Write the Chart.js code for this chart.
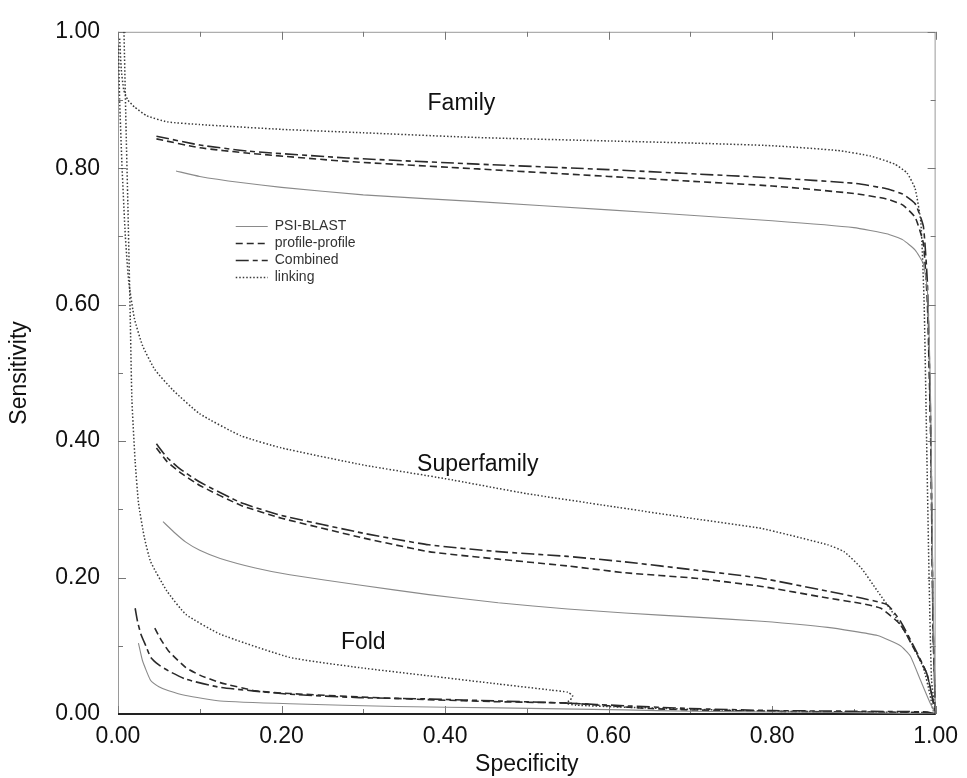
<!DOCTYPE html>
<html>
<head>
<meta charset="utf-8">
<script src="https://cdn.jsdelivr.net/npm/chart.js@4.4.1/dist/chart.umd.min.js"></script>
<style>
  html, body { margin: 0; padding: 0; background: #fff; }
  #wrap { width: 967px; height: 778px; }
</style>
</head>
<body>
<div id="wrap"><canvas id="rocChart" width="967" height="778"></canvas></div>
<script>
// DATA  (specificity, sensitivity)
const famPsiBlast = [[0.071,0.796],[0.1,0.788],[0.15,0.779],[0.2,0.772],[0.3,0.761],[0.44,0.751],[0.6,0.739],[0.7,0.731],[0.8,0.723],[0.9,0.713],[0.94,0.704],[0.96,0.695],[0.975,0.68],[0.985,0.66],[0.99,0.62],[0.994,0.45],[0.997,0.15],[1.0,0.0]];
const famProfile = [[0.047,0.843],[0.1,0.83],[0.16,0.822],[0.28,0.81],[0.44,0.799],[0.6,0.788],[0.7,0.781],[0.8,0.774],[0.9,0.763],[0.94,0.755],[0.96,0.746],[0.975,0.728],[0.985,0.69],[0.99,0.6],[0.994,0.4],[0.997,0.12],[1.0,0.0]];
const famCombined = [[0.047,0.847],[0.1,0.834],[0.16,0.825],[0.28,0.815],[0.44,0.806],[0.6,0.798],[0.7,0.792],[0.8,0.786],[0.9,0.778],[0.94,0.77],[0.96,0.762],[0.975,0.748],[0.985,0.715],[0.99,0.63],[0.994,0.42],[0.997,0.12],[1.0,0.0]];
const famLinking = [[0.002,0.99],[0.004,0.945],[0.007,0.915],[0.012,0.9],[0.02,0.89],[0.035,0.877],[0.06,0.868],[0.1,0.864],[0.2,0.857],[0.3,0.852],[0.44,0.845],[0.6,0.84],[0.7,0.837],[0.8,0.833],[0.88,0.826],[0.92,0.818],[0.95,0.806],[0.965,0.793],[0.975,0.77],[0.982,0.72],[0.986,0.6],[0.989,0.4],[0.992,0.2],[0.995,0.05],[1.0,0.0]];

const supPsiBlast = [[0.055,0.282],[0.07,0.265],[0.083,0.252],[0.1,0.24],[0.125,0.228],[0.168,0.214],[0.21,0.204],[0.295,0.189],[0.38,0.175],[0.465,0.163],[0.55,0.154],[0.62,0.148],[0.706,0.142],[0.787,0.136],[0.868,0.127],[0.929,0.115],[0.957,0.1],[0.969,0.085],[0.981,0.051],[0.993,0.017],[1.0,0.0]];
const supProfile = [[0.047,0.39],[0.06,0.37],[0.075,0.355],[0.1,0.335],[0.15,0.306],[0.2,0.287],[0.3,0.258],[0.38,0.238],[0.465,0.227],[0.55,0.217],[0.62,0.207],[0.706,0.199],[0.787,0.187],[0.868,0.17],[0.909,0.162],[0.933,0.155],[0.957,0.131],[0.973,0.097],[0.989,0.06],[0.995,0.03],[1.0,0.0]];
const supCombined = [[0.047,0.396],[0.06,0.376],[0.075,0.36],[0.1,0.34],[0.15,0.31],[0.2,0.291],[0.3,0.265],[0.38,0.248],[0.465,0.238],[0.55,0.231],[0.62,0.223],[0.706,0.211],[0.787,0.199],[0.868,0.18],[0.909,0.17],[0.941,0.16],[0.957,0.136],[0.973,0.1],[0.989,0.06],[0.995,0.03],[1.0,0.0]];
const supLinking = [[0.0005,0.98],[0.002,0.9],[0.005,0.8],[0.009,0.7],[0.013,0.635],[0.02,0.58],[0.03,0.54],[0.045,0.505],[0.067,0.475],[0.1,0.44],[0.15,0.408],[0.2,0.39],[0.3,0.365],[0.4,0.345],[0.5,0.323],[0.6,0.305],[0.706,0.286],[0.787,0.272],[0.868,0.248],[0.888,0.238],[0.909,0.214],[0.929,0.18],[0.949,0.146],[0.969,0.107],[0.985,0.068],[0.993,0.029],[0.997,0.005],[1.0,0.0]];

const foldPsiBlast = [[0.025,0.104],[0.03,0.078],[0.04,0.049],[0.05,0.04],[0.062,0.034],[0.083,0.027],[0.125,0.019],[0.21,0.015],[0.34,0.011],[0.465,0.009],[0.62,0.006],[0.7,0.004],[0.8,0.003],[0.9,0.002],[1.0,0.0]];
const foldProfile = [[0.045,0.126],[0.052,0.11],[0.062,0.092],[0.083,0.068],[0.1,0.057],[0.125,0.046],[0.168,0.034],[0.21,0.03],[0.295,0.025],[0.38,0.021],[0.465,0.018],[0.55,0.016],[0.6,0.012],[0.65,0.008],[0.7,0.006],[0.8,0.004],[0.9,0.003],[0.99,0.002],[1.0,0.0]];
const foldCombined = [[0.021,0.155],[0.024,0.135],[0.028,0.117],[0.034,0.1],[0.04,0.083],[0.05,0.072],[0.062,0.063],[0.083,0.051],[0.125,0.039],[0.21,0.029],[0.295,0.024],[0.38,0.022],[0.465,0.019],[0.55,0.016],[0.62,0.012],[0.7,0.008],[0.8,0.005],[0.9,0.004],[0.99,0.003],[1.0,0.0]];
const foldLinking = [[0.0073,1.0],[0.01,0.85],[0.012,0.75],[0.015,0.58],[0.017,0.46],[0.021,0.37],[0.025,0.31],[0.032,0.26],[0.04,0.223],[0.06,0.18],[0.083,0.146],[0.125,0.117],[0.21,0.083],[0.295,0.068],[0.38,0.056],[0.465,0.044],[0.53,0.035],[0.55,0.032],[0.556,0.027],[0.553,0.02],[0.547,0.016],[0.56,0.013],[0.62,0.01],[0.7,0.007],[0.8,0.004],[0.9,0.003],[0.99,0.002],[1.0,0.0]];

const methodNames = ['PSI-BLAST', 'profile-profile', 'Combined', 'linking'];
const groupNames = ['Family', 'Superfamily', 'Fold'];
const axisTicks = [0, 0.2, 0.4, 0.6, 0.8, 1.0];

// line look for each method
const styles = {
  'PSI-BLAST':       { color: '#8a8a8a', width: 1.1, dash: [] },
  'profile-profile': { color: '#2a2a2a', width: 1.6, dash: [7, 4] },
  'Combined':        { color: '#2a2a2a', width: 1.6, dash: [13, 4, 5, 4] },
  'linking':         { color: '#3a3a3a', width: 1.5, dash: [1.5, 2] }
};

const series = [
  ['PSI-BLAST', famPsiBlast], ['profile-profile', famProfile], ['Combined', famCombined], ['linking', famLinking],
  ['PSI-BLAST', supPsiBlast], ['profile-profile', supProfile], ['Combined', supCombined], ['linking', supLinking],
  ['PSI-BLAST', foldPsiBlast], ['profile-profile', foldProfile], ['Combined', foldCombined], ['linking', foldLinking]
];

const datasets = series.map(([name, pts]) => ({
  label: name,
  data: pts.map(p => ({ x: p[0], y: p[1] })),
  showLine: true,
  borderColor: styles[name].color,
  borderWidth: styles[name].width,
  borderDash: styles[name].dash,
  pointRadius: 0,
  tension: 0.15,
  fill: false
}));

const FONT = "'Liberation Sans', Arial, Helvetica, sans-serif";

// frame, inward ticks, legend and group labels
const decorations = {
  id: 'decorations',
  beforeDatasetsDraw(chart) {
    const { ctx, chartArea: a, scales } = chart;
    ctx.save();
    ctx.strokeStyle = '#9a9a9a';
    ctx.lineWidth = 1;
    ctx.strokeRect(a.left + 0.5, a.top + 0.5, a.right - a.left - 1, a.bottom - a.top);
    ctx.strokeStyle = '#777';
    for (let i = 0; i <= 10; i++) {
      const v = i / 10;
      const len = i % 2 === 0 ? 8 : 5;
      const px = Math.round(scales.x.getPixelForValue(v)) + 0.5;
      const py = Math.round(scales.y.getPixelForValue(v)) + 0.5;
      ctx.beginPath();
      ctx.moveTo(px, a.bottom); ctx.lineTo(px, a.bottom - len);
      ctx.moveTo(px, a.top); ctx.lineTo(px, a.top + len);
      ctx.moveTo(a.left, py); ctx.lineTo(a.left + len, py);
      ctx.moveTo(a.right, py); ctx.lineTo(a.right - len, py);
      ctx.stroke();
    }
    // dark baseline like the original plot
    ctx.strokeStyle = '#222';
    ctx.lineWidth = 2;
    ctx.beginPath();
    ctx.moveTo(a.left, a.bottom); ctx.lineTo(a.right, a.bottom);
    ctx.stroke();
    ctx.restore();
  },
  afterDatasetsDraw(chart) {
    const { ctx, scales } = chart;
    ctx.save();
    // legend
    const lx = scales.x.getPixelForValue(0.144);
    const ly = scales.y.getPixelForValue(0.716);
    ctx.font = '14px ' + FONT;
    ctx.textBaseline = 'middle';
    ctx.fillStyle = '#333';
    methodNames.forEach((name, i) => {
      const y = Math.round(ly + i * 17.3) + 0.5;
      const s = styles[name];
      ctx.beginPath();
      ctx.strokeStyle = s.color;
      ctx.lineWidth = s.width;
      ctx.setLineDash(s.dash);
      ctx.moveTo(lx, y); ctx.lineTo(lx + 32, y);
      ctx.stroke();
      ctx.setLineDash([]);
      ctx.fillText(name, lx + 39, y);
    });
    // group labels
    ctx.font = '23px ' + FONT;
    ctx.fillStyle = '#111';
    ctx.textAlign = 'center';
    const spots = [[0.42, 0.895], [0.44, 0.365], [0.30, 0.105]];
    groupNames.forEach((g, i) => {
      ctx.fillText(g, scales.x.getPixelForValue(spots[i][0]), scales.y.getPixelForValue(spots[i][1]));
    });
    ctx.restore();
  }
};

new Chart(document.getElementById('rocChart'), {
  type: 'scatter',
  data: { datasets },
  plugins: [decorations],
  options: {
    responsive: false,
    animation: false,
    devicePixelRatio: 1,
    layout: { padding: { top: 25, right: 25, left: 0, bottom: 0 } },
    plugins: { legend: { display: false }, tooltip: { enabled: false } },
    scales: {
      x: {
        type: 'linear', min: 0, max: 1,
        afterFit: s => { s.height = 64; },
        afterBuildTicks: s => { s.ticks = axisTicks.map(v => ({ value: v })); },
        grid: { display: false, drawTicks: false },
        border: { display: false },
        ticks: { padding: 9, color: '#111', font: { family: FONT, size: 23 }, callback: v => v.toFixed(2), maxRotation: 0 },
        title: { display: true, text: 'Specificity', color: '#111', font: { family: FONT, size: 23 }, padding: { top: 0, bottom: 0 } }
      },
      y: {
        type: 'linear', min: 0, max: 1,
        afterFit: s => { s.width = 118; },
        afterBuildTicks: s => { s.ticks = axisTicks.map(v => ({ value: v })); },
        grid: { display: false, drawTicks: false },
        border: { display: false },
        ticks: { padding: 18, color: '#111', font: { family: FONT, size: 23 }, callback: v => v.toFixed(2) },
        title: { display: true, text: 'Sensitivity', color: '#111', font: { family: FONT, size: 23 }, padding: { top: 6, bottom: 0 } }
      }
    }
  }
});
</script>
</body>
</html>
